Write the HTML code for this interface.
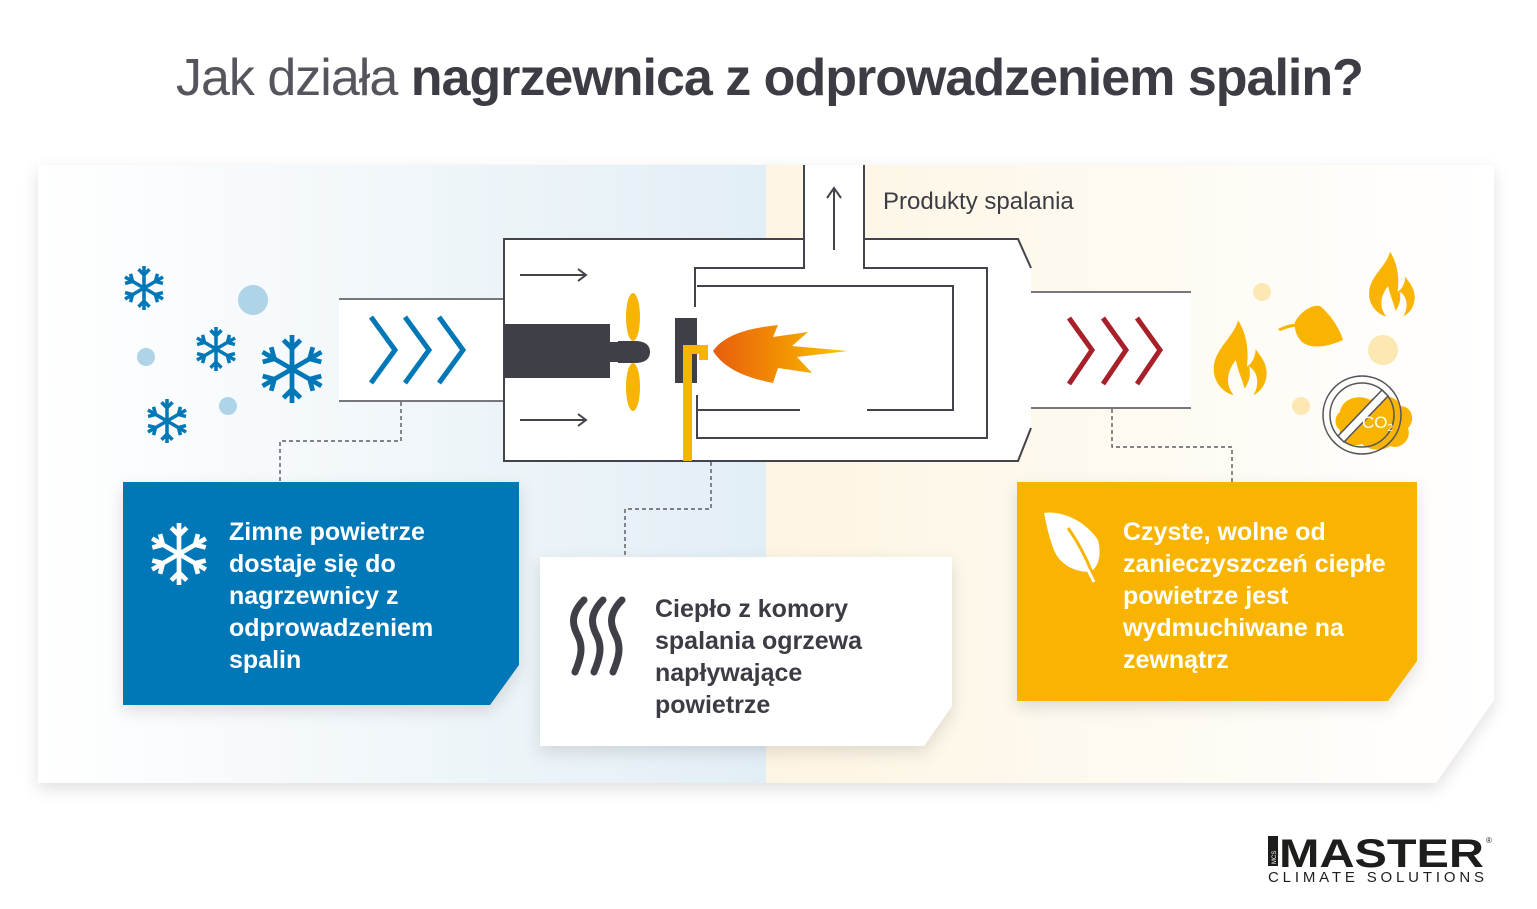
<!DOCTYPE html>
<html><head><meta charset="utf-8"><style>
html,body{margin:0;padding:0;background:#fff;}
svg{display:block}
text{font-family:"Liberation Sans",sans-serif}
</style></head><body>
<svg width="1537" height="909" viewBox="0 0 1537 909" xmlns="http://www.w3.org/2000/svg">
<defs>
<linearGradient id="gl" x1="0" x2="1" y1="0" y2="0"><stop offset="0" stop-color="#ffffff"/><stop offset="1" stop-color="#e2eef5"/></linearGradient>
<linearGradient id="gr" x1="0" x2="1" y1="0" y2="0"><stop offset="0" stop-color="#fdf5e3"/><stop offset="1" stop-color="#ffffff"/></linearGradient>
<linearGradient id="fl" x1="0" x2="1"><stop offset="0" stop-color="#e85d0c"/><stop offset="0.6" stop-color="#f39a00"/><stop offset="1" stop-color="#fcc800"/></linearGradient>
<filter id="sh" x="-10%" y="-10%" width="120%" height="130%"><feDropShadow dx="0" dy="6" stdDeviation="8" flood-color="#000" flood-opacity="0.12"/></filter>
<g id="arm"><path d="M0 0V-1M0 -0.6L-0.25 -0.85M0 -0.6L0.25 -0.85" fill="none" stroke-linecap="butt"/></g>
<g id="flake"><use href="#arm"/><use href="#arm" transform="rotate(60)"/><use href="#arm" transform="rotate(120)"/><use href="#arm" transform="rotate(180)"/><use href="#arm" transform="rotate(240)"/><use href="#arm" transform="rotate(300)"/></g>
<path id="fire" d="M0 -36C-4 -20 -22 -10 -22 8C-22 22 -12 30 -4 32C-12 22 -10 10 -2 0C0 10 4 18 6 26C10 20 12 14 10 6C18 10 20 22 14 32C22 28 26 20 26 12C26 2 20 -4 16 -10C16 -2 12 4 8 6C10 -8 8 -24 0 -36Z"/>
</defs>

<text x="176" y="95" font-size="52" fill="#3c3c44" letter-spacing="-1"><tspan fill="#55555d">Jak działa </tspan><tspan font-weight="bold">nagrzewnica z odprowadzeniem spalin?</tspan></text>

<g filter="url(#sh)">
<path d="M38 165H1494V700L1436 783H38Z" fill="#fff"/>
</g>
<rect x="38" y="165" width="728" height="618" fill="url(#gl)"/>
<path d="M766 165H1494V700L1436 783H766Z" fill="url(#gr)"/>

<use href="#flake" transform="translate(144,288) scale(22)" stroke="#0077b6" stroke-width="0.16"/>
<use href="#flake" transform="translate(216,349) scale(22)" stroke="#0077b6" stroke-width="0.16"/>
<use href="#flake" transform="translate(292,369) scale(34)" stroke="#0077b6" stroke-width="0.14"/>
<use href="#flake" transform="translate(167,421) scale(22)" stroke="#0077b6" stroke-width="0.16"/>
<circle cx="253" cy="300" r="15" fill="#afd3e7"/>
<circle cx="146" cy="357" r="9" fill="#afd3e7"/>
<circle cx="228" cy="406" r="9" fill="#afd3e7"/>

<g fill="#f8b400">
<use href="#fire" transform="translate(1390,286) scale(0.95)"/>
<use href="#fire" transform="translate(1238,360) scale(1.1)"/>
<path d="M1278 329C1290 322 1305 322 1320 327C1306 324 1292 326 1280 331Z"/>
<path d="M1295 322C1300 312 1312 304 1320 306C1332 316 1340 330 1343 340C1330 346 1312 350 1302 342C1296 336 1294 328 1295 322Z"/>
<circle cx="1262" cy="292" r="9" fill="#fde7b3"/>
<circle cx="1383" cy="350" r="15" fill="#fde7b3"/>
<circle cx="1301" cy="406" r="9" fill="#fde7b3"/>
<path d="M1340 412C1342 398 1360 394 1370 400C1380 392 1398 396 1400 406C1412 406 1416 420 1408 428C1412 440 1400 450 1390 446C1382 452 1368 450 1362 444C1350 448 1338 440 1340 430C1334 426 1334 416 1340 412Z"/>
</g>
<circle cx="1362" cy="415" r="39" fill="none" stroke="#54545c" stroke-width="1.5"/>
<circle cx="1362" cy="415" r="32" fill="none" stroke="#54545c" stroke-width="1.5"/>
<path d="M1338 436L1382 390L1388 396L1344 442Z" fill="#fff" stroke="#54545c" stroke-width="1.5"/>
<text x="1362" y="428" font-size="17" fill="#fff">CO<tspan font-size="10" dy="3">2</tspan></text>

<path d="M339 299H504V401H339Z" fill="#fff"/>
<path d="M339 299H504M339 401H504" stroke="#4a4a52" stroke-width="1.5"/>
<path d="M1031 292H1191V408H1031Z" fill="#fff"/>
<path d="M1031 292H1191M1031 408H1191" stroke="#4a4a52" stroke-width="1.5"/>
<g fill="none" stroke="#0077b6" stroke-width="5"><path d="M371 317L395 350L371 383M405 317L429 350L405 383M439 317L463 350L439 383"/></g>
<g fill="none" stroke="#a8202a" stroke-width="5"><path d="M1069 318L1092 350L1069 384M1103 318L1126 350L1103 384M1137 318L1160 350L1137 384"/></g>

<path d="M504 239H1018L1031 268V428L1018 461H504Z" fill="#fff"/>
<rect x="804" y="165" width="60" height="80" fill="#fff"/>
<g fill="none" stroke="#43434b" stroke-width="2">
<path d="M804 239H504V461H1018L1031 428"/>
<path d="M864 239H1018L1031 268"/>
<path d="M804 165V268H695V307"/>
<path d="M864 165V268H987V438H697V395"/>
<path d="M697 286H953V410H867M800 410H697"/>
<path d="M834 250V190M827 198L834 188L841 198"/>
<path d="M520 275H586M578 269L586 275L578 281M520 420H586M578 414L586 420L578 426"/>
</g>
<rect x="504" y="324" width="106" height="54" fill="#3f3f47"/>
<rect x="608" y="342" width="14" height="20" fill="#3f3f47"/>
<path d="M618 341H635C646 341 650 346 650 352C650 358 646 363 635 363H618Z" fill="#3f3f47"/>
<ellipse cx="633" cy="317" rx="7" ry="24" fill="#f8b400"/>
<ellipse cx="633" cy="387" rx="7" ry="24" fill="#f8b400"/>
<rect x="675" y="318" width="22" height="65" fill="#3f3f47"/>
<rect x="683" y="345" width="9" height="116" fill="#f8b400"/>
<rect x="683" y="345" width="25" height="9" fill="#f8b400"/>
<rect x="699" y="345" width="9" height="15" fill="#f8b400"/>
<path d="M713 351C725 334 750 328 778 325L773 337L808 332L792 346L848 351L797 357L812 373L778 368L773 383C748 378 725 370 713 351Z" fill="url(#fl)"/>

<text x="883" y="209" font-size="24" fill="#3c3c44">Produkty spalania</text>

<g fill="none" stroke="#3c3c44" stroke-width="1.2" stroke-dasharray="4 3">
<path d="M401 402V441H280V482"/>
<path d="M711 462V509H625V557"/>
<path d="M1112 409V447H1232V482"/>
</g>

<path d="M123 482H519V665L490 705H123Z" fill="#0077b6" filter="url(#sh)"/>
<path d="M540 557H952V706L924 746H540Z" fill="#fff" filter="url(#sh)"/>
<path d="M1017 482H1417V661L1388 701H1017Z" fill="#f8b400" filter="url(#sh)"/>

<use href="#flake" transform="translate(179,554) scale(31)" stroke="#fff" stroke-width="0.15"/>
<g font-size="25" font-weight="bold" fill="#fff">
<text x="229" y="540">Zimne powietrze</text>
<text x="229" y="572">dostaje się do</text>
<text x="229" y="604">nagrzewnicy z</text>
<text x="229" y="636">odprowadzeniem</text>
<text x="229" y="668">spalin</text>
</g>

<g fill="none" stroke="#3f3f47" stroke-width="7" stroke-linecap="round">
<path d="M584 600C568 616 574 628 578 636C584 648 580 660 575 672"/>
<path d="M603 600C587 616 593 628 597 636C603 648 599 660 594 672"/>
<path d="M622 600C606 616 612 628 616 636C622 648 618 660 613 672"/>
</g>
<g font-size="25" font-weight="bold" fill="#3c3c44">
<text x="655" y="617">Ciepło z komory</text>
<text x="655" y="649">spalania ogrzewa</text>
<text x="655" y="681">napływające</text>
<text x="655" y="713">powietrze</text>
</g>

<path d="M1044 513C1060 510 1085 520 1098 540C1102 556 1098 568 1090 572C1075 572 1060 565 1054 550C1048 535 1046 522 1044 513Z" fill="#fff"/>
<path d="M1068 528C1080 545 1090 565 1095 582" stroke="#f8b400" stroke-width="3" fill="none"/>
<path d="M1088 570L1094 582" stroke="#fff" stroke-width="3"/>
<g font-size="25" font-weight="bold" fill="#fff">
<text x="1123" y="540">Czyste, wolne od</text>
<text x="1123" y="572">zanieczyszczeń ciepłe</text>
<text x="1123" y="604">powietrze jest</text>
<text x="1123" y="636">wydmuchiwane na</text>
<text x="1123" y="668">zewnątrz</text>
</g>

<rect x="1268" y="836" width="10" height="30" fill="#1d1d1b"/>
<text x="1276" y="864" font-size="6" fill="#fff" transform="rotate(-90 1276 864)">MCS</text>
<text x="1279" y="867" font-size="40" font-weight="bold" fill="#1d1d1b" textLength="205" lengthAdjust="spacingAndGlyphs">MASTER</text>
<text x="1486" y="843" font-size="8" fill="#1d1d1b">®</text>
<text x="1268" y="882" font-size="15" fill="#1d1d1b" textLength="216" lengthAdjust="spacing">CLIMATE SOLUTIONS</text>
</svg>
</body></html>
